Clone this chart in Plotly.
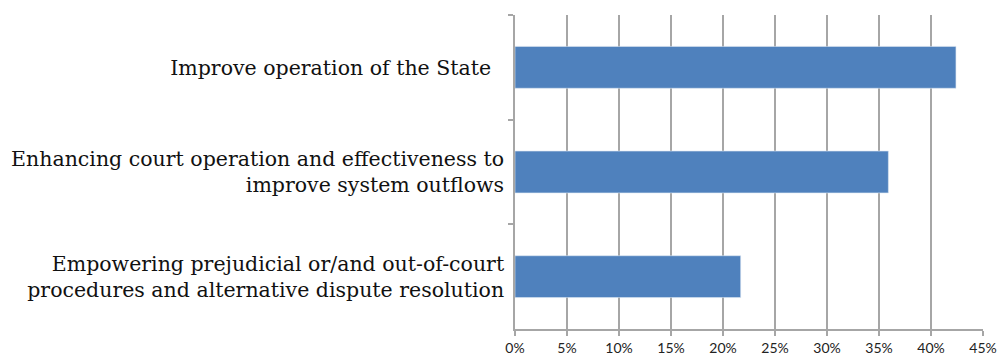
import plotly.graph_objects as go

categories = [
    "Improve operation of the State\u00a0\u00a0",
    "Enhancing court operation and effectiveness to<br>improve system outflows",
    "Empowering prejudicial or/and out-of-court<br>procedures and alternative dispute resolution",
]
shares = [0.424, 0.359, 0.217]
x_ticks = [0, 0.05, 0.10, 0.15, 0.20, 0.25, 0.30, 0.35, 0.40, 0.45]
x_tick_labels = ["0%", "5%", "10%", "15%", "20%", "25%", "30%", "35%", "40%", "45%"]

grid_color = "#A6A6A6"

fig = go.Figure(
    go.Bar(
        x=shares,
        y=categories,
        orientation="h",
        width=0.4,
        marker=dict(color="#4F81BD", line=dict(color="#DCE6F2", width=0.6)),
        hoverinfo="x+y",
    )
)

fig.update_layout(
    width=1000,
    height=358,
    margin=dict(l=515, r=17, t=15, b=29, pad=0),
    paper_bgcolor="white",
    plot_bgcolor="white",
    showlegend=False,
    bargap=0.6,
)

fig.update_xaxes(
    range=[0, 0.45],
    tickvals=x_ticks,
    ticktext=x_tick_labels,
    automargin=False,
    showgrid=True,
    gridcolor=grid_color,
    gridwidth=1.5,
    showline=True,
    linecolor=grid_color,
    linewidth=1.5,
    ticks="outside",
    ticklen=5,
    tickcolor=grid_color,
    tickwidth=1.5,
    ticklabelstandoff=0,
    tickfont=dict(family="Lato", size=14, color="#222222"),
    zeroline=False,
)

fig.update_yaxes(
    categoryorder="array",
    categoryarray=categories,
    autorange="reversed",
    automargin=False,
    showgrid=False,
    showline=True,
    linecolor=grid_color,
    linewidth=1.5,
    ticks="outside",
    tickson="boundaries",
    ticklen=5,
    tickcolor=grid_color,
    tickwidth=1.5,
    ticklabelstandoff=5,
    tickfont=dict(family="DejaVu Serif", size=20.5, color="#111111"),
    zeroline=False,
)

fig.write_html("out.html")
